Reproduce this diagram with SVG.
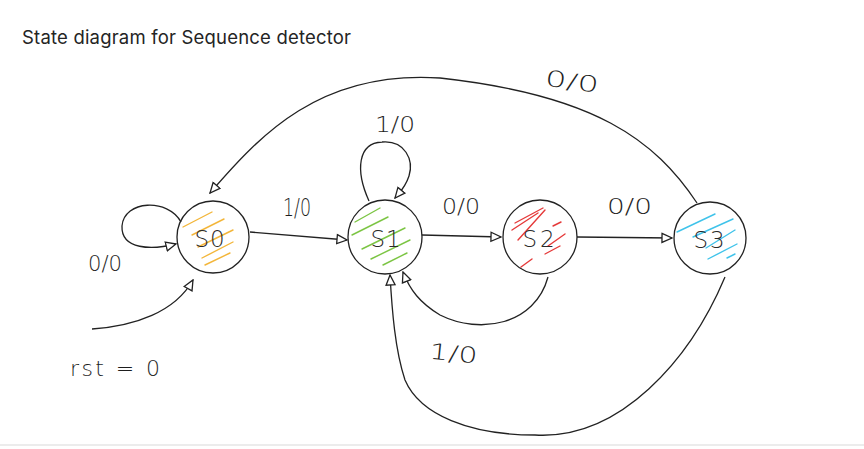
<svg xmlns="http://www.w3.org/2000/svg" width="864" height="449" viewBox="0 0 864 449">
<style>
.title{font-family:Inter,"Liberation Sans",sans-serif;font-size:18.5px;fill:#242424}
.lbl{font-family:"DejaVu Sans","Liberation Sans",sans-serif;font-weight:200;font-size:22px;fill:#1e1e1e}
.st{font-family:"DejaVu Sans","Liberation Sans",sans-serif;font-weight:200;font-size:23px;fill:#2a2a2a}
.node circle{fill:none;stroke:#222;stroke-width:1.3}
.edge{fill:none;stroke:#222;stroke-width:1.3}
.h{stroke-width:1.4;stroke-linecap:round}
.or{stroke:#f3b63a}.gr{stroke:#7cc544}.rd{stroke:#e53a3a}.cy{stroke:#3fc3ea}
</style>
<defs>
<marker id="ah" viewBox="0 0 12 12" refX="11" refY="6" markerWidth="12" markerHeight="12" markerUnits="userSpaceOnUse" orient="auto">
<path d="M1,1.5 L11,6 L1,10.5 Z" fill="#fff" stroke="#222" stroke-width="1.3"/>
</marker>
</defs>
<rect width="864" height="449" fill="#fff"/>
<text class="title" x="22" y="44" textLength="329">State diagram for Sequence detector</text>
<line x1="0" y1="445" x2="864" y2="445" stroke="#d9d9d9" stroke-width="1.2"/>

<g id="connectors">
<path class="edge" marker-end="url(#ah)" d="M181,222 C168,198 124,200 122,226 C121,250 152,250 176,244"/>
<path class="edge" marker-end="url(#ah)" d="M92,329 C135,326 175,312 193,280"/>
<path class="edge" marker-end="url(#ah)" d="M250,232 L347,240"/>
<path class="edge" marker-end="url(#ah)" d="M369,201 C355,170 358,143 382,142 C405,140 414,160 409,176 C405,188 400,192 395,198"/>
<path class="edge" marker-end="url(#ah)" d="M422,235 L501,237"/>
<path class="edge" marker-end="url(#ah)" d="M577,237 L672,238"/>
<path class="edge" marker-end="url(#ah)" d="M697,203 C655,140 595,95 440,78 C320,70 260,135 210,193"/>
<path class="edge" marker-end="url(#ah)" d="M548,277 C535,325 480,335 440,315 C420,303 410,290 403,272"/>
<path class="edge" marker-end="url(#ah)" d="M725,277 C690,360 620,440 535,435 C470,435 420,415 405,380 C395,350 392,310 390,275"/>
<text class="lbl" x="88" y="271" textLength="34" lengthAdjust="spacingAndGlyphs">0/0</text>
<text class="lbl" x="283" y="216" style="font-size:25px" textLength="28" lengthAdjust="spacingAndGlyphs">1/0</text>
<text class="lbl" x="375" y="132" textLength="40" lengthAdjust="spacingAndGlyphs">1/0</text>
<text class="lbl" x="442" y="214" textLength="38" lengthAdjust="spacingAndGlyphs">0/0</text>
<text class="lbl" x="607" y="214" textLength="45" lengthAdjust="spacingAndGlyphs">0/0</text>
<text class="lbl" x="545" y="89" textLength="54" lengthAdjust="spacingAndGlyphs" transform="rotate(8 571 82)">0/0</text>
<text class="lbl" x="430" y="361" textLength="48" lengthAdjust="spacingAndGlyphs" transform="rotate(6 454 348)">1/0</text>
<text class="lbl" x="70" y="376" textLength="90">rst = 0</text>
</g>

<g id="S0" class="node">
<g class="h or">
<line x1="183" y1="227" x2="212" y2="212"/>
<line x1="192" y1="235" x2="224" y2="219"/>
<line x1="198" y1="247" x2="233" y2="230"/>
<line x1="202" y1="258" x2="233" y2="242"/>
<line x1="205" y1="265" x2="230" y2="253"/>
</g>
<circle cx="213" cy="237" r="36"/>
<text class="st" x="210" y="247" text-anchor="middle" letter-spacing="1">S0</text>
</g>

<g id="S1" class="node">
<g class="h gr">
<line x1="355" y1="222" x2="380" y2="208"/>
<line x1="352" y1="235" x2="388" y2="217"/>
<line x1="362" y1="249" x2="405" y2="228"/>
<line x1="371" y1="259" x2="410" y2="240"/>
<line x1="383" y1="265" x2="407" y2="253"/>
</g>
<circle cx="385" cy="237" r="37"/>
<text class="st" x="386" y="247" text-anchor="middle" letter-spacing="1">S1</text>
</g>

<g id="S2" class="node">
<g class="h rd">
<line x1="515" y1="223" x2="543" y2="208"/>
<line x1="512" y1="230" x2="538" y2="213"/>
<line x1="518" y1="240" x2="545" y2="210"/>
<line x1="553" y1="226" x2="561" y2="222"/>
<line x1="548" y1="246" x2="565" y2="234"/>
<line x1="545" y1="254" x2="560" y2="246"/>
<line x1="521" y1="267" x2="532" y2="259"/>
</g>
<circle cx="540" cy="237" r="37"/>
<text class="st" x="540" y="247" text-anchor="middle" letter-spacing="3">S2</text>
</g>

<g id="S3" class="node">
<g class="h cy">
<line x1="677" y1="232" x2="715" y2="214"/>
<line x1="693" y1="237" x2="733" y2="219"/>
<line x1="706" y1="248" x2="735" y2="230"/>
<line x1="708" y1="259" x2="737" y2="244"/>
<line x1="727" y1="258" x2="735" y2="254"/>
</g>
<circle cx="710" cy="238" r="36"/>
<text class="st" x="710" y="248" text-anchor="middle" letter-spacing="2">S3</text>
</g>
</svg>
